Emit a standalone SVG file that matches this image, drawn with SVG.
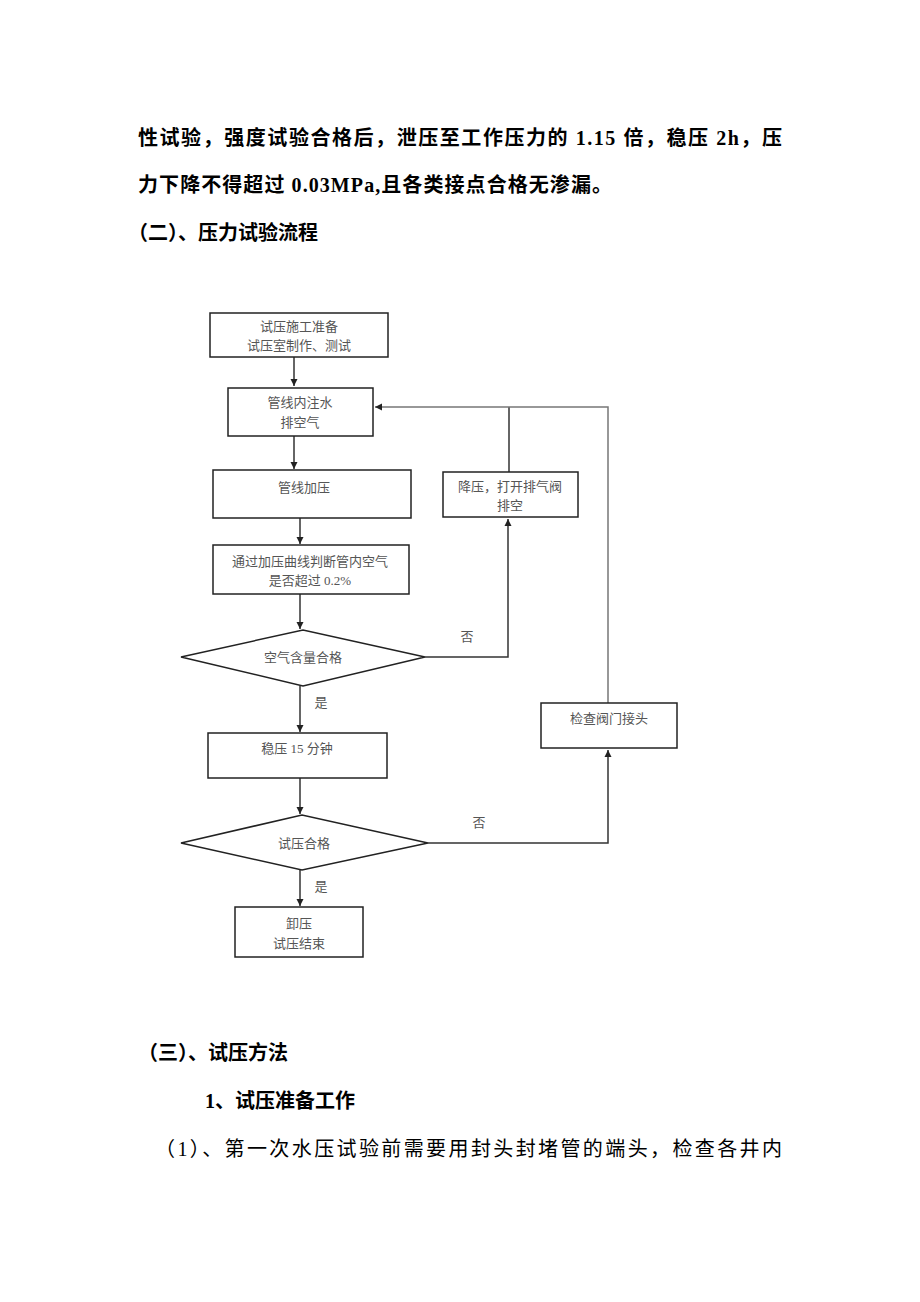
<svg xmlns="http://www.w3.org/2000/svg" width="920" height="1302" viewBox="0 0 920 1302">
<defs>
<marker id="arr" markerWidth="8" markerHeight="8" refX="7" refY="4" orient="auto" markerUnits="userSpaceOnUse">
<path d="M0,0.5 L7,4 L0,7.5 Z" fill="#222"/>
</marker>
<style>
.body{font-family:"Liberation Serif","Noto Sans CJK SC",serif;font-size:20px;fill:#000}
.b{font-weight:bold}
.box{fill:#fff;stroke:#222;stroke-width:1.5}
.lbl{font-family:"Liberation Serif","Noto Sans CJK SC",serif;font-size:13px;fill:#555;text-anchor:middle}
.ln{fill:none;stroke:#333;stroke-width:1.5}
.ln2{fill:none;stroke:#777;stroke-width:1.5}
</style>
</defs>
<rect width="920" height="1302" fill="#fff"/>
<g id="text-top">
<text class="body b" x="138" y="145" textLength="644" lengthAdjust="spacing">性试验，强度试验合格后，泄压至工作压力的 1.15 倍，稳压 2h，压</text>
<text class="body b" x="138" y="192" textLength="474" lengthAdjust="spacing">力下降不得超过 0.03MPa,且各类接点合格无渗漏。</text>
<text class="body b" x="128" y="240">（二）、压力试验流程</text>
</g>
<g id="connectors">
<line class="ln" x1="294" y1="357" x2="294" y2="386" marker-end="url(#arr)"/>
<line class="ln" x1="294" y1="436" x2="294" y2="469" marker-end="url(#arr)"/>
<line class="ln" x1="300" y1="518" x2="300" y2="544" marker-end="url(#arr)"/>
<line class="ln" x1="300" y1="594" x2="300" y2="629" marker-end="url(#arr)"/>
<line class="ln" x1="300" y1="686" x2="300" y2="732" marker-end="url(#arr)"/>
<line class="ln" x1="300" y1="778" x2="300" y2="814" marker-end="url(#arr)"/>
<line class="ln" x1="300" y1="870" x2="300" y2="906" marker-end="url(#arr)"/>
<polyline class="ln" points="425,657 508,657 508,519" marker-end="url(#arr)"/>
<line class="ln" x1="509" y1="472" x2="509" y2="407"/>
<polyline class="ln2" points="608,703 608,407 375,407" marker-end="url(#arr)"/>
<polyline class="ln" points="428,843 608,843 608,750" marker-end="url(#arr)"/>
<text class="lbl" x="467" y="641">否</text>
<text class="lbl" x="321" y="707">是</text>
<text class="lbl" x="479" y="827">否</text>
<text class="lbl" x="321" y="891">是</text>
</g>
<g id="n1"><rect class="box" x="210" y="313" width="178" height="44"/>
<text class="lbl" x="299" y="331">试压施工准备</text><text class="lbl" x="299" y="350">试压室制作、测试</text></g>
<g id="n2"><rect class="box" x="228" y="388" width="145" height="48"/>
<text class="lbl" x="300" y="407">管线内注水</text><text class="lbl" x="300" y="427">排空气</text></g>
<g id="n3"><rect class="box" x="213" y="470" width="198" height="48"/>
<text class="lbl" x="304" y="492">管线加压</text></g>
<g id="n4"><rect class="box" x="213" y="545" width="196" height="49"/>
<text class="lbl" x="310" y="566">通过加压曲线判断管内空气</text><text class="lbl" x="310" y="585">是否超过 0.2%</text></g>
<g id="n5"><rect class="box" x="443" y="472" width="135" height="45"/>
<text class="lbl" x="510" y="491">降压，打开排气阀</text><text class="lbl" x="510" y="510">排空</text></g>
<g id="d1"><polygon class="box" points="181,657 303,630 425,657 303,686"/>
<text class="lbl" x="303" y="662">空气含量合格</text></g>
<g id="n6"><rect class="box" x="541" y="703" width="136" height="45"/>
<text class="lbl" x="609" y="723">检查阀门接头</text></g>
<g id="n7"><rect class="box" x="208" y="733" width="179" height="45"/>
<text class="lbl" x="297" y="753">稳压 15 分钟</text></g>
<g id="d2"><polygon class="box" points="181,843 302,815 428,843 302,870"/>
<text class="lbl" x="304" y="848">试压合格</text></g>
<g id="n8"><rect class="box" x="235" y="907" width="128" height="50"/>
<text class="lbl" x="299" y="928">卸压</text><text class="lbl" x="299" y="948">试压结束</text></g>
<g id="text-bottom">
<text class="body b" x="138" y="1060">（三）、试压方法</text>
<text class="body b" x="205" y="1108">1、试压准备工作</text>
<text class="body" x="155" y="1156" textLength="627" lengthAdjust="spacing">（1）、第一次水压试验前需要用封头封堵管的端头，检查各井内</text>
</g>
</svg>
